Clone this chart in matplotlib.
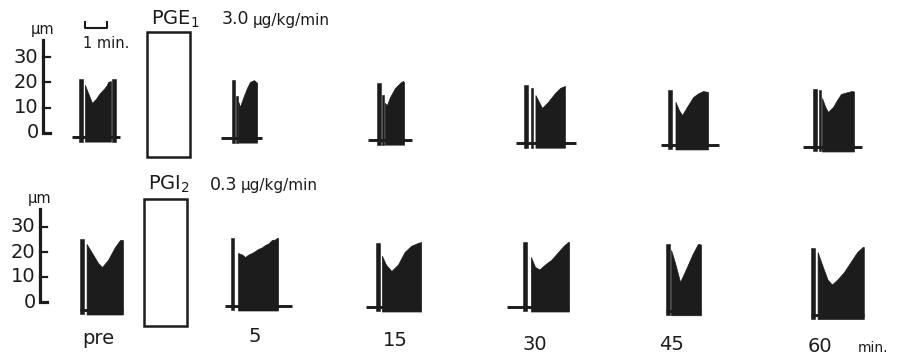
import matplotlib.pyplot as plt
from matplotlib.patches import Rectangle

W, H = 904, 359
PX_PER_MIN = 22.0
INK = "#1c1c1c"

# sampling times (min after start of infusion)
time_labels = ["pre", "5", "15", "30", "45", "60"]

# ---- PGE1 row: vessel diameter traces (min from first spike, um) ----
pge_spikes = [
    [(0.0, 0.18, 21.3), (1.50, 1.66, 21.3)],
    [(0.0, 0.13, 20.9), (0.19, 0.26, 14.6)],
    [(0.0, 0.18, 19.8), (0.25, 0.32, 15.0)],
    [(0.0, 0.16, 19.0), (0.31, 0.42, 17.8)],
    [(0.0, 0.18, 17.0)],
    [(0.0, 0.18, 17.4), (0.26, 0.37, 17.0)],
]
pge_env_t = [
    [0.27, 0.45, 0.59, 0.77, 0.95, 1.14, 1.27, 1.32, 1.45],
    [0.29, 0.36, 0.50, 0.68, 0.82, 1.00, 1.14],
    [0.35, 0.45, 0.59, 0.82, 1.05, 1.18, 1.23],
    [0.52, 0.82, 1.09, 1.41, 1.64, 1.86],
    [0.34, 0.50, 0.64, 0.91, 1.14, 1.36, 1.59, 1.82],
    [0.41, 0.55, 0.68, 0.91, 1.09, 1.27, 1.50, 1.77, 1.86],
]
pge_env_amp = [
    [19.0, 15.0, 11.9, 13.5, 15.8, 17.5, 19.0, 20.2, 20.5],
    [12.3, 10.3, 13.8, 17.8, 20.2, 20.9, 19.8],
    [11.9, 11.0, 14.2, 17.8, 19.8, 20.6, 20.0],
    [15.0, 9.9, 12.3, 15.8, 17.8, 18.6],
    [12.3, 9.0, 7.1, 11.0, 14.2, 15.6, 16.6, 16.2],
    [13.8, 10.5, 8.3, 10.3, 13.0, 15.4, 16.0, 16.6, 16.4],
]
pge_base = [-1.6, -2.0, -2.8, -4.0, -4.7, -5.5]
pge_base_span = [(-0.32, 1.86), (-0.50, 1.36), (-0.41, 1.59),
                 (-0.36, 2.36), (-0.32, 2.32), (-0.45, 2.23)]

# ---- PGI2 row ----
pgi_spikes = [
    [(0.0, 0.18, 25.2)],
    [(0.0, 0.13, 25.6)],
    [(0.0, 0.18, 23.5)],
    [(0.0, 0.16, 24.0)],
    [(0.0, 0.16, 23.2)],
    [(0.0, 0.16, 21.6)],
]
pgi_env_t = [
    [0.30, 0.55, 0.82, 1.00, 1.27, 1.59, 1.82, 1.95],
    [0.32, 0.50, 0.64, 0.80, 0.95, 1.10, 1.23, 1.40, 1.55, 1.70, 1.86, 2.00, 2.09, 2.14],
    [0.27, 0.45, 0.70, 1.00, 1.30, 1.60, 1.90, 2.05],
    [0.36, 0.55, 0.75, 1.00, 1.30, 1.60, 1.85, 2.05, 2.09],
    [0.23, 0.40, 0.64, 0.90, 1.20, 1.45, 1.59],
    [0.30, 0.50, 0.75, 0.95, 1.20, 1.50, 1.80, 2.10, 2.35, 2.40],
]
pgi_env_amp = [
    [23.2, 19.6, 15.6, 14.0, 16.8, 22.0, 24.8, 24.8],
    [19.6, 19.0, 18.0, 19.0, 19.6, 20.4, 21.2, 21.8, 22.8, 23.4, 24.8, 25.0, 25.6, 25.6],
    [18.5, 15.0, 12.4, 15.0, 20.0, 22.5, 23.6, 24.0],
    [18.0, 14.0, 13.0, 15.0, 17.0, 20.0, 22.5, 24.0, 24.0],
    [20.8, 16.0, 8.0, 13.0, 19.0, 23.2, 23.0],
    [20.0, 15.0, 9.0, 7.0, 9.0, 12.0, 16.0, 20.0, 22.0, 22.0],
]
pgi_base = [-3.2, -1.6, -2.0, -2.0, -3.5, -5.0]
pgi_base_span = [(0.0, 1.95), (-0.27, 2.77), (-0.45, 2.05),
                 (-0.73, 2.09), (0.0, 1.59), (0.0, 2.40)]

scale_ticks = [0, 10, 20, 30]

# layout: first-spike position of each trace on the page (px)
pge_start_px = [79, 232, 377, 524, 668, 813]
pgi_start_px = [80, 231, 376, 523, 666, 811]


def draw_trace(ax, t0, spikes, env_t, env_amp, base, span):
    floor = base - 1.8
    ax.plot([t0 + span[0], t0 + span[1]], [base, base], color=INK, lw=2.1,
            solid_capstyle="butt")
    for s0, s1, h in spikes:
        ax.fill_between([t0 + s0, t0 + s1], floor, h, color=INK, lw=0.4, edgecolor=INK)
    tt = [t0 + t for t in env_t]
    ax.fill_between(tt, floor, env_amp, color=INK, lw=0.5, edgecolor=INK)


def draw_scale(ax, x, top):
    ax.plot([x, x, x + 0.3], [top, 0, 0], color=INK, lw=2.3, solid_joinstyle="miter")
    for v in scale_ticks[1:]:
        ax.plot([x, x + 0.33], [v, v], color=INK, lw=1.6)
    for v in scale_ticks:
        ax.text(x - 0.2, v, str(v), ha="right", va="center", fontsize=14, color=INK)
    ax.text(x, top + 4.0, "μm", ha="center", va="center", fontsize=10.5, color=INK)


fig = plt.figure(figsize=(W / 100, H / 100), dpi=100)
fig.patch.set_facecolor("white")

# top panel: 0 um at y=133 px, 2.53 px/um
ax1 = fig.add_axes([0, 1 - 170 / H, 1, 170 / H])
ax1.set_xlim(0, W / PX_PER_MIN)
ax1.set_ylim((133 - 170) / 2.53, 133 / 2.53)
# bottom panel: 0 um at y=302 px, 2.5 px/um
ax2 = fig.add_axes([0, 0, 1, 189 / H])
ax2.set_xlim(0, W / PX_PER_MIN)
ax2.set_ylim((302 - 359) / 2.5, (302 - 170) / 2.5)
for ax in (ax1, ax2):
    ax.axis("off")

for i in range(len(time_labels)):
    draw_trace(ax1, pge_start_px[i] / PX_PER_MIN, pge_spikes[i], pge_env_t[i],
               pge_env_amp[i], pge_base[i], pge_base_span[i])
    draw_trace(ax2, pgi_start_px[i] / PX_PER_MIN, pgi_spikes[i], pgi_env_t[i],
               pgi_env_amp[i], pgi_base[i], pgi_base_span[i])

draw_scale(ax1, 43 / PX_PER_MIN, 36.8)
draw_scale(ax2, 40 / PX_PER_MIN, 37.2)

# 1 min bar
bx = 85 / PX_PER_MIN
ax1.plot([bx, bx, bx + 1, bx + 1], [44.0, 41.6, 41.6, 44.0], color=INK, lw=1.5)


def ftext(x, y, s, **kw):
    kw.setdefault("color", INK)
    fig.text(x / W, 1 - y / H, s, **kw)


ftext(83, 44, "1 min.", ha="left", va="center", fontsize=10.5)

# infusion boxes
for x0, y0, x1, y1 in [(147, 32, 190, 157), (144, 199, 187, 326)]:
    fig.patches.append(Rectangle((x0 / W, 1 - y1 / H), (x1 - x0) / W, (y1 - y0) / H,
                                 transform=fig.transFigure, fill=False,
                                 edgecolor=INK, lw=1.8))

ftext(151, 19, r"PGE$_1$", ha="left", va="center", fontsize=14)
ftext(222, 19, "3.0", ha="left", va="center", fontsize=12.5)
ftext(253, 20, "μg/kg/min", ha="left", va="center", fontsize=11)
ftext(148, 184, r"PGI$_2$", ha="left", va="center", fontsize=14)
ftext(210, 185, "0.3", ha="left", va="center", fontsize=12.5)
ftext(241, 186, "μg/kg/min", ha="left", va="center", fontsize=11)

label_px = [(98, 338), (255, 337), (395, 341), (535, 344), (672, 344), (820, 346)]
for lab, (x, y) in zip(time_labels, label_px):
    ftext(x, y, lab, ha="center", va="center", fontsize=14)
ftext(858, 348, "min.", ha="left", va="center", fontsize=10)

fig.savefig("out.png", dpi=100, facecolor="white")
